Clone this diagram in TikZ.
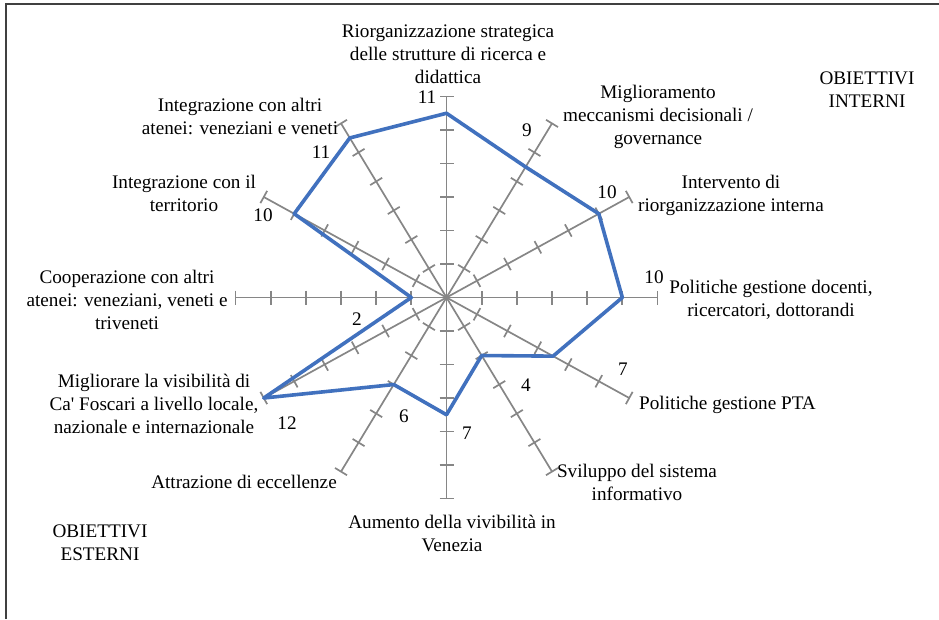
\documentclass[tikz,border=0pt]{standalone}
\usepackage{fontspec}
\setmainfont{Liberation Serif}
\newfontfamily\plainserif{Liberation Serif}
\usetikzlibrary{calc}
\definecolor{axisgray}{RGB}{134,134,134}
\definecolor{seriesblue}{RGB}{65,113,190}
\definecolor{framegray}{RGB}{64,64,64}
\begin{document}
\begin{tikzpicture}[x=1pt,y=-1pt,
  axisline/.style={draw=axisgray,line width=1.7pt},
  series/.style={draw=seriesblue,line width=3.6pt,line join=round},
  lbl/.style={align=center,inner sep=0pt,font=\fontsize{19.2}{23}\selectfont},
  num/.style={inner sep=0pt,font=\fontsize{19.2}{23}\selectfont}]
\useasboundingbox (0,0) rectangle (939,619);
% frame lines
\draw[framegray,line width=1.4pt] (6,619) -- (6,4) -- (939,4);
% centre and axis end points, clockwise from the top
\coordinate (c) at (446.5,297.5);
\foreach \ang [count=\i] in {90,60,30,0,-30,-60,-90,-120,-150,180,150,120}
  \coordinate (e\i) at ({446.5+211*cos(\ang)},{297.5-201*sin(\ang)});
% axes with tick marks every 2 units (scale 0..12)
\foreach \i in {1,...,12}{
  \draw[axisline] (c) -- (e\i);
  \foreach \k in {1,...,6}
    \draw[axisline] ($(c)!\k/6!(e\i)!7pt!90:(c)$) -- ($(c)!\k/6!(e\i)!7pt!-90:(c)$);
}
% data series
\foreach \v [count=\i] in {11,9,10,10,7,4,7,6,12,2,10,11}
  \coordinate (v\i) at ($(c)!\v/12!(e\i)$);
\draw[series] (v1) -- (v2) -- (v3) -- (v4) -- (v5) -- (v6) -- (v7) -- (v8) -- (v9) -- (v10) -- (v11) -- (v12) -- cycle;
% value labels
\node[num] (n1) at (427,97) {11};
\node[num] (n2) at (527,130) {9};
\node[num] (n3) at (607,192) {10};
\node[num] (n4) at (654,277) {10};
\node[num] (n5) at (623,369) {7};
\node[num] (n6) at (526,385) {4};
\node[num] (n7) at (467,433) {7};
\node[num] (n8) at (404,416) {6};
\node[num] (n9) at (287,423) {12};
\node[num] (n10) at (357,319) {2};
\node[num] (n11) at (263,215) {10};
\node[num] (n12) at (321,152) {11};
% category labels
\node[lbl] (l1) at (448,54) {Riorganizzazione strategica\\delle strutture di ricerca e\\didattica};
\node[lbl] (l2) at (658,117) {Miglioramento\\meccanismi decisionali /\\governance};
\node[lbl] (l3) at (731,195) {Intervento di\\riorganizzazione interna};
\node[lbl] (l4) at (771,300) {Politiche gestione docenti,\\ricercatori, dottorandi};
\node[lbl] (l5) at (727.5,405) {Politiche gestione PTA};
\node[lbl] (l6) at (637,482) {Sviluppo del sistema\\informativo};
\node[lbl] (l7) at (452,533) {Aumento della vivibilità in\\Venezia};
\node[lbl] (l8) at (244,482) {Attrazione di eccellenze};
\node[lbl] (l9) at (154,404) {Migliorare la visibilità di\\Ca{\plainserif '} Foscari a livello locale,\\nazionale e internazionale};
\node[lbl] (l10) at (127,300) {Cooperazione con altri\\atenei: veneziani, veneti e\\triveneti};
\node[lbl] (l11) at (184,193) {Integrazione con il\\territorio};
\node[lbl] (l12) at (240,116) {Integrazione con altri\\atenei: veneziani e veneti};
% group captions
\node[lbl] (gi) at (867,90) {OBIETTIVI\\INTERNI};
\node[lbl] (ge) at (100,543) {OBIETTIVI\\ESTERNI};
\end{tikzpicture}
\end{document}
